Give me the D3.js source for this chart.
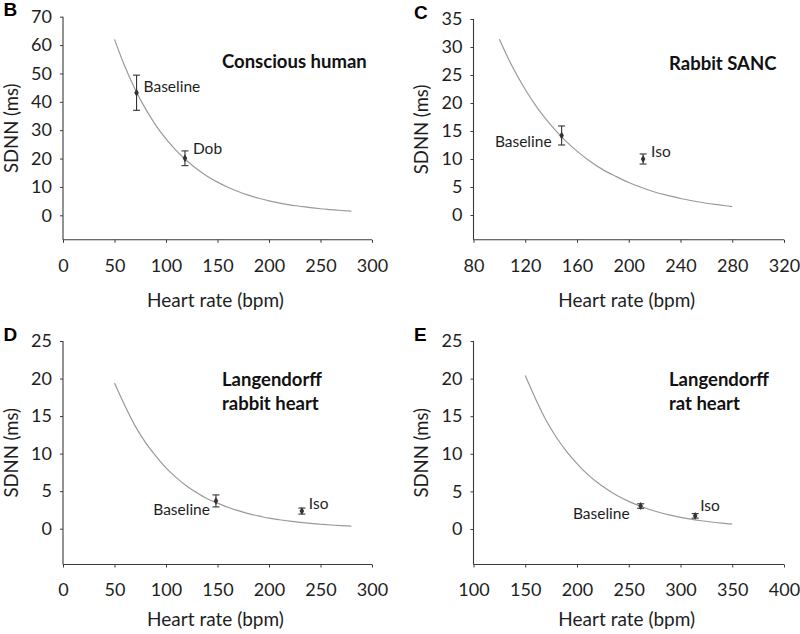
<!DOCTYPE html>
<html><head><meta charset="utf-8">
<script src="https://cdn.jsdelivr.net/npm/d3@7"></script>
<style>body{margin:0;background:#fff}</style>
</head><body>
<svg id="chart" width="800" height="634"></svg>
<script>
// ---------- DATA ----------
// Panel B: conscious human
const hrB   = [50,60,70,80,90,100,110,120,130,140,150,160,170,180,190,200,210,220,230,240,250,260,270,280];
const fitB  = [62.0,52.5,44.4,37.6,31.8,26.9,22.8,19.3,16.3,13.8,11.7,9.9,8.4,7.1,6.0,5.1,4.3,3.7,3.2,2.7,2.3,2.0,1.7,1.45];
const ptLabelsB = ["Baseline","Dob"];
const ptHrB   = [71.4,118.4];
const ptSdB   = [43.2,20.1];
const ptErrB  = [6.2,2.6];
const yTicksB = [0,10,20,30,40,50,60,70];
const xTicksB = [0,50,100,150,200,250,300];

// Panel C: rabbit SANC
const hrC   = [100,110,120,130,140,150,160,170,180,190,200,210,220,230,240,250,260,270,280];
const fitC  = [31.4,26.5,22.4,18.9,16.0,13.5,11.4,9.6,8.1,6.9,5.8,4.9,4.1,3.5,2.95,2.5,2.1,1.8,1.5];
const ptLabelsC = ["Baseline","Iso"];
const ptHrC   = [148.1,211.1];
const ptSdC   = [14.2,10.0];
const ptErrC  = [1.7,0.9];
const yTicksC = [0,5,10,15,20,25,30,35];
const xTicksC = [80,120,160,200,240,280,320];

// Panel D: Langendorff rabbit heart
const hrD   = [50,60,70,80,90,100,110,120,130,140,150,160,170,180,190,200,210,220,230,240,250,260,270,280];
const fitD  = [19.4,16.4,13.7,11.5,9.7,8.1,6.8,5.7,4.8,4.0,3.4,2.85,2.4,2.0,1.7,1.4,1.19,1.0,0.84,0.70,0.59,0.49,0.41,0.35];
const ptLabelsD = ["Baseline","Iso"];
const ptHrD   = [148.5,231.9];
const ptSdD   = [3.7,2.35];
const ptErrD  = [0.8,0.4];
const yTicksD = [0,5,10,15,20,25];
const xTicksD = [0,50,100,150,200,250,300];

// Panel E: Langendorff rat heart
const hrE   = [150,160,170,180,190,200,210,220,230,240,250,260,270,280,290,300,310,320,330,340,350];
const fitE  = [20.4,17.3,14.5,12.2,10.3,8.7,7.3,6.15,5.2,4.36,3.67,3.09,2.6,2.19,1.85,1.55,1.31,1.10,0.93,0.78,0.66];
const ptLabelsE = ["Baseline","Iso"];
const ptHrE   = [261.5,314.2];
const ptSdE   = [3.05,1.75];
const ptErrE  = [0.3,0.3];
const yTicksE = [0,5,10,15,20,25];
const xTicksE = [100,150,200,250,300,350,400];

const panelLetters = ["B","C","D","E"];
const panelTitles  = [["Conscious human"],["Rabbit SANC"],["Langendorff","rabbit heart"],["Langendorff","rat heart"]];
const xTitle = "Heart rate (bpm)";
const yTitle = "SDNN (ms)";

// ---------- LAYOUT ----------
const panels = [
  {hr:hrB, fit:fitB, lab:ptLabelsB, px:ptHrB, py:ptSdB, pe:ptErrB, yt:yTicksB, xt:xTicksB,
   x0:63, x1:372, yTop:16.7, yZero:215.3, yBot:239.8, xTitleOff:67, titleX:222,
   lblOff:[[7,-6,"start"],[8,-10,"start"]]},
  {hr:hrC, fit:fitC, lab:ptLabelsC, px:ptHrC, py:ptSdC, pe:ptErrC, yt:yTicksC, xt:xTicksC,
   x0:473.5, x1:784, yTop:19, yZero:215, yBot:239.8, xTitleOff:67, titleX:669,
   lblOff:[[-10,6,"end"],[8,-7,"start"]]},
  {hr:hrD, fit:fitD, lab:ptLabelsD, px:ptHrD, py:ptSdD, pe:ptErrD, yt:yTicksD, xt:xTicksD,
   x0:63, x1:372, yTop:341, yZero:528.7, yBot:564.5, xTitleOff:61, titleX:222,
   lblOff:[[-6,9,"end"],[7,-7,"start"]]},
  {hr:hrE, fit:fitE, lab:ptLabelsE, px:ptHrE, py:ptSdE, pe:ptErrE, yt:yTicksE, xt:xTicksE,
   x0:473.5, x1:784, yTop:341, yZero:529, yBot:564.5, xTitleOff:61, titleX:669,
   lblOff:[[-11,8,"end"],[5,-10,"start"]]}
];

const svg = d3.select("#chart");
svg.append("rect").attr("width",800).attr("height",634).attr("fill","#fff");

const axisColor = "#3a3a3a";
const textColor = "#1e1e1e";
const FONT = "Lato, 'Open Sans', sans-serif";

panels.forEach((p, i) => {
  const yMaxVal = p.yt[p.yt.length-1];
  const x = d3.scaleLinear().domain([p.xt[0], p.xt[p.xt.length-1]]).range([p.x0, p.x1]);
  const y = d3.scaleLinear().domain([0, yMaxVal]).range([p.yZero, p.yTop]);
  const yMin = y.invert(p.yBot);
  y.domain([yMin, yMaxVal]).range([p.yBot, p.yTop]);

  const g = svg.append("g");

  // y axis
  const yAxis = d3.axisLeft(y).tickValues(p.yt).tickSize(3).tickSizeOuter(0).tickPadding(8).tickFormat(d3.format("d"));
  const ya = g.append("g").attr("transform",`translate(${p.x0},0)`).call(yAxis);
  // x axis
  const xAxis = d3.axisBottom(x).tickValues(p.xt).tickSize(3).tickSizeOuter(0).tickPadding(16).tickFormat(d3.format("d"));
  const xa = g.append("g").attr("transform",`translate(0,${p.yBot})`).call(xAxis);

  [ya, xa].forEach(a => {
    a.select(".domain").attr("stroke",axisColor).attr("stroke-width",1.1);
    a.selectAll(".tick line").attr("stroke",axisColor).attr("stroke-width",1);
    a.selectAll(".tick text").attr("fill",textColor).style("font-family",FONT).style("font-size","18px");
  });
  ya.select(".domain").attr("d",`M0,${p.yTop}V${p.yBot}`);
  xa.select(".domain").attr("d",`M${p.x0},0H${p.x1}`);

  // axis titles
  g.append("text").attr("x",(p.x0+p.x1)/2 - 2).attr("y",p.yBot+p.xTitleOff)
    .attr("text-anchor","middle").attr("fill",textColor)
    .style("font-family",FONT).style("font-size","19px").text(xTitle);
  g.append("text").attr("transform",`translate(${p.x0-51.5},${(p.yTop+p.yBot)/2}) rotate(-90)`)
    .attr("dy","0.33em").attr("text-anchor","middle").attr("fill",textColor)
    .style("font-family",FONT).style("font-size","18.5px").text(yTitle);

  // panel letter
  g.append("text").attr("x",p.x0-59.5).attr("y",p.yTop-0.5)
    .attr("fill","#000").style("font-family","'Liberation Sans', Arial, sans-serif")
    .style("font-weight","bold").style("font-size","19px").text(panelLetters[i]);

  // panel title
  const tt = g.append("text").attr("y",p.yTop+51)
    .attr("fill","#111").style("font-family",FONT).style("font-weight","bold").style("font-size","18.5px");
  panelTitles[i].forEach((t,k) => {
    tt.append("tspan").attr("x",p.titleX).attr("dy",k===0?0:24).text(t);
  });
  if (panelTitles[i].length>1) tt.attr("y",p.yTop+45);

  // fitted curve
  const line = d3.line().x(d=>x(d[0])).y(d=>y(d[1])).curve(d3.curveMonotoneX);
  g.append("path").datum(p.hr.map((h,k)=>[h,p.fit[k]]))
    .attr("d",line).attr("fill","none").attr("stroke","#9a9a9a").attr("stroke-width",1.2);

  // points with error bars
  p.px.forEach((hx,k) => {
    const cx = x(hx), cy = y(p.py[k]);
    const top = y(p.py[k]+p.pe[k]), bot = y(p.py[k]-p.pe[k]);
    g.append("line").attr("x1",cx).attr("x2",cx).attr("y1",top).attr("y2",bot).attr("stroke","#333").attr("stroke-width",1.1);
    [top,bot].forEach(v => g.append("line").attr("x1",cx-3.5).attr("x2",cx+3.5).attr("y1",v).attr("y2",v).attr("stroke","#333").attr("stroke-width",1.1));
    g.append("path").attr("d",d3.symbol(d3.symbolDiamond,18)()).attr("transform",`translate(${cx},${cy})`).attr("fill","#333");
    const o = p.lblOff[k];
    g.append("text").attr("x",cx+o[0]).attr("y",cy+o[1]).attr("dy","0.35em")
      .attr("text-anchor",o[2]).attr("fill",textColor)
      .style("font-family",FONT).style("font-size","15.5px").text(p.lab[k]);
  });
});
</script>
</body></html>
